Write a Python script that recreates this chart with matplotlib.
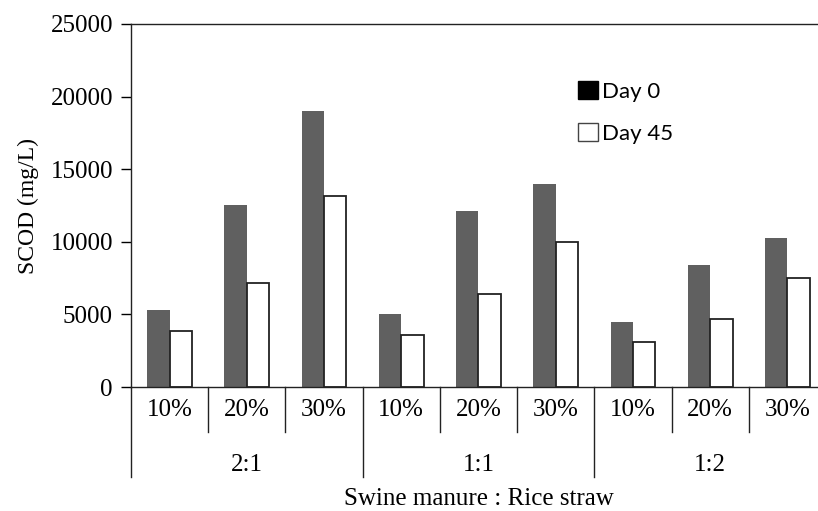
import numpy as np
import matplotlib
matplotlib.use("Agg")
import matplotlib.pyplot as plt
from matplotlib.patches import Patch
import matplotlib.transforms as mtransforms

# ── Data ──────────────────────────────────────────────────────────────────────
ratios   = ["2:1", "1:1", "1:2"]
percents = ["10%", "20%", "30%"]
day0  = [5300, 12500, 19000, 5000, 12100, 14000, 4500, 8400, 10250]
day45 = [3850, 7150, 13150, 3600, 6400, 10000, 3080, 4650, 7500]

# ── Figure ───────────────────────────────────────────────────────────────────
fig = plt.figure(figsize=(8.18, 5.11), dpi=100)
ax = fig.add_axes([131 / 818, 124 / 511, 695 / 818, 363 / 511])

serif = "Liberation Serif"
n = len(day0)
x = np.arange(n)
w = 0.29

ax.bar(x - w / 2, day0, w, color="#606060", edgecolor="none")
ax.bar(x + w / 2, day45, w, facecolor="white", edgecolor="#222222", linewidth=1.3)

ax.set_xlim(-0.5, n - 0.5)
ax.set_ylim(0, 25000)
ax.set_yticks(np.arange(0, 25001, 5000))
ax.tick_params(axis="y", direction="out", length=7, width=1.0, labelsize=18, pad=6)
for lab in ax.get_yticklabels():
    lab.set_fontfamily(serif)
ax.set_xticks([])

for s in ["left", "bottom", "top"]:
    ax.spines[s].set_linewidth(1.0)
    ax.spines[s].set_color("#222222")
ax.spines["right"].set_visible(False)

ax.set_ylabel("SCOD (mg/L)", fontsize=17, fontfamily=serif, labelpad=8)

# ── Two-level category axis ──────────────────────────────────────────────────
trans = mtransforms.blended_transform_factory(ax.transData, ax.transAxes)
short_y = -0.124
long_y = -0.248
for i in range(n + 1):
    xb = i - 0.5
    y_end = long_y if i % 3 == 0 else short_y
    ax.plot([xb, xb], [0, y_end], color="#222222", lw=1.0,
            transform=trans, clip_on=False)

for i in range(n):
    ax.text(i, -0.063, percents[i % 3], transform=trans, ha="center",
            va="center", fontsize=18, fontfamily=serif)

for g, name in enumerate(ratios):
    ax.text(g * 3 + 1, -0.215, name, transform=trans, ha="center",
            va="center", fontsize=18, fontfamily=serif)

ax.text(4.0, -0.308, "Swine manure : Rice straw",
        transform=trans, ha="center", va="center", fontsize=18,
        fontfamily=serif)

# ── Legend ───────────────────────────────────────────────────────────────────
handles = [Patch(facecolor="black", edgecolor="black"),
           Patch(facecolor="white", edgecolor="#444444", linewidth=1.0)]
fig.legend(handles, ["Day 0", "Day 45"], loc="upper left",
           bbox_to_anchor=(578 / 818, 1 - 81 / 511), frameon=False,
           borderpad=0, borderaxespad=0, handlelength=0.9,
           handleheight=0.9, handletextpad=0.2, labelspacing=0.95,
           prop={"family": "Lato", "size": 16})

fig.savefig("out.png", dpi=100)
